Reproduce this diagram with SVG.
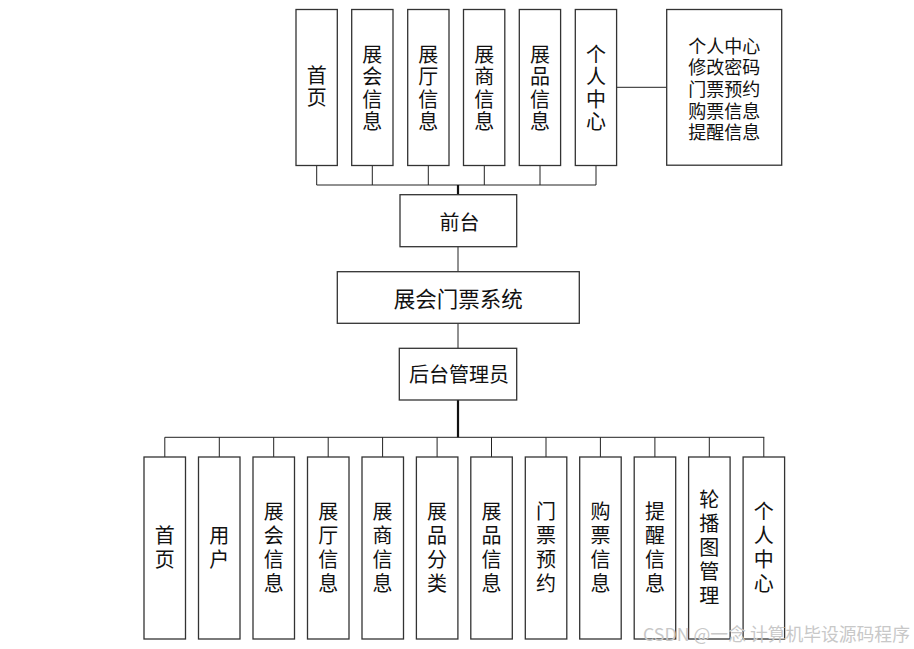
<svg xmlns="http://www.w3.org/2000/svg" width="914" height="649" viewBox="0 0 914 649">
<style>
.box{fill:#fff;stroke:#333;stroke-width:1.3}
.ln{fill:none;stroke:#222;stroke-width:1}
.thick{fill:none;stroke:#111;stroke-width:2.2}
text{font-family:"Noto Sans CJK SC","Noto Sans",sans-serif;fill:#111;dominant-baseline:central;text-anchor:middle}
.v{font-size:20px;writing-mode:vertical-rl;letter-spacing:2.5px}
.vb{font-size:20px;writing-mode:vertical-rl;letter-spacing:4px}
.list{font-size:18px}
.wm{font-size:17.8px;fill:#c8c8c8;text-anchor:start}
</style>
<rect width="914" height="649" fill="#fff"/>
<g id="connectors">
<path class="ln" d="M316.7 165.5V185M372.3 165.5V185M428.3 165.5V185M484.3 165.5V185M540 165.5V185M596 165.5V185M316.7 185H596"/>
<path class="thick" d="M458 185V195"/>
<path class="ln" d="M616.7 87.3H666.7"/>
<path class="ln" d="M458 246.7V271.7M458 323.3V348.3"/>
<path class="thick" d="M458 400V437.3"/>
<path class="ln" d="M164.8 437.3H764.3"/>
<path class="ln" d="M164.8 437.3V457M219.3 437.3V457M273.7 437.3V457M328.2 437.3V457M382.6 437.3V457M437.1 437.3V457M491.5 437.3V457M546 437.3V457M600.4 437.3V457M654.9 437.3V457M709.3 437.3V457M763.8 437.3V457"/>
</g>
<g id="t1"><rect class="box" x="296" y="9.5" width="41.3" height="156"/><text class="v" x="316.7" y="87.5">首页</text></g>
<g id="t2"><rect class="box" x="351.7" y="9.5" width="41.3" height="156"/><text class="v" x="372.3" y="89">展会信息</text></g>
<g id="t3"><rect class="box" x="407.7" y="9.5" width="41.3" height="156"/><text class="v" x="428.3" y="89">展厅信息</text></g>
<g id="t4"><rect class="box" x="463.5" y="9.5" width="41.3" height="156"/><text class="v" x="484.3" y="89">展商信息</text></g>
<g id="t5"><rect class="box" x="519.3" y="9.5" width="41.3" height="156"/><text class="v" x="540" y="89">展品信息</text></g>
<g id="t6"><rect class="box" x="575.3" y="9.5" width="41.3" height="156"/><text class="v" x="596" y="89">个人中心</text></g>
<g id="personal-list"><rect class="box" x="666.7" y="9.5" width="115" height="155.7"/><text class="list"><tspan x="724.2" y="44.5">个人中心</tspan><tspan x="724.2" y="66.2">修改密码</tspan><tspan x="724.2" y="87.9">门票预约</tspan><tspan x="724.2" y="109.6">购票信息</tspan><tspan x="724.2" y="131.3">提醒信息</tspan></text></g>
<g id="front"><rect class="box" x="400" y="194.7" width="116.7" height="52"/><text x="459.5" y="221" style="font-size:20px">前台</text></g>
<g id="system"><rect class="box" x="337.3" y="271.7" width="242" height="51.6"/><text x="458.3" y="297" style="font-size:21.5px">展会门票系统</text></g>
<g id="admin"><rect class="box" x="399.3" y="348.3" width="117.4" height="51.7"/><text x="459" y="373.5" style="font-size:20px">后台管理员</text></g>
<g id="b1"><rect class="box" x="144" y="457" width="41.5" height="182"/><text class="vb" x="164.8" y="549">首页</text></g>
<g id="b2"><rect class="box" x="198.5" y="457" width="41.5" height="182"/><text class="vb" x="219.3" y="549">用户</text></g>
<g id="b3"><rect class="box" x="253" y="457" width="41.5" height="182"/><text class="vb" x="273.7" y="549">展会信息</text></g>
<g id="b4"><rect class="box" x="307.5" y="457" width="41.5" height="182"/><text class="vb" x="328.2" y="549">展厅信息</text></g>
<g id="b5"><rect class="box" x="362" y="457" width="41.5" height="182"/><text class="vb" x="382.6" y="549">展商信息</text></g>
<g id="b6"><rect class="box" x="416.4" y="457" width="41.5" height="182"/><text class="vb" x="437.1" y="549">展品分类</text></g>
<g id="b7"><rect class="box" x="470.8" y="457" width="41.5" height="182"/><text class="vb" x="491.5" y="549">展品信息</text></g>
<g id="b8"><rect class="box" x="525.3" y="457" width="41.5" height="182"/><text class="vb" x="546" y="549">门票预约</text></g>
<g id="b9"><rect class="box" x="579.7" y="457" width="41.5" height="182"/><text class="vb" x="600.4" y="549">购票信息</text></g>
<g id="b10"><rect class="box" x="634.2" y="457" width="41.5" height="182"/><text class="vb" x="654.9" y="549">提醒信息</text></g>
<g id="b11"><rect class="box" x="688.6" y="457" width="41.5" height="182"/><text class="vb" x="709.3" y="549">轮播图管理</text></g>
<g id="b12"><rect class="box" x="743.1" y="457" width="41.5" height="182"/><text class="vb" x="763.8" y="549">个人中心</text></g>
<text class="wm" x="643" y="633">CSDN @一念 计算机毕设源码程序</text>
</svg>
